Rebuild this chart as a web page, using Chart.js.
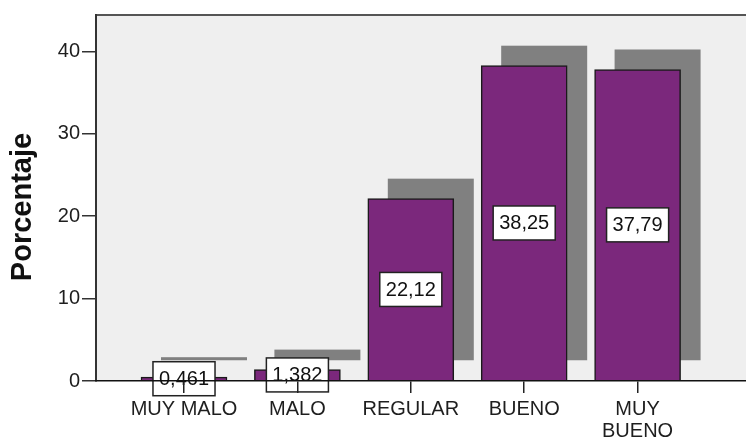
<!DOCTYPE html>
<html>
<head>
<meta charset="utf-8">
<script src="https://cdn.jsdelivr.net/npm/chart.js@4.4.1/dist/chart.umd.min.js"></script>
<style>
  html, body { margin: 0; padding: 0; background: #fff; overflow: hidden; }
  canvas { display: block; }
</style>
</head>
<body>
<canvas id="chart" width="746" height="438"></canvas>
<script>
// Porcentaje por categoría de valoración
const CATEGORIES = ['MUY MALO', 'MALO', 'REGULAR', 'BUENO', ['MUY', 'BUENO']];
const PERCENTAGES = [0.461, 1.382, 22.12, 38.25, 37.79];
const Y_TICKS = [0, 10, 20, 30, 40];
const Y_TITLE = 'Porcentaje';

const COLORS = {
  bar: '#7b287c',
  barEdge: '#1a1a1a',
  shadow: '#808080',
  plotBg: '#efefef',
  text: '#1e1e1e',
};

const FONT = "'Liberation Sans', Arial, sans-serif";
Chart.defaults.font.family = FONT;
Chart.defaults.font.size = 20;
Chart.defaults.color = COLORS.text;

const fmt = (v) => String(v).replace('.', ',');

// grey plot panel, offset "drop shadow" behind each bar, boxed value labels
const framePlugin = {
  id: 'frame',
  beforeDraw(chart) {
    const { ctx, chartArea: a } = chart;
    ctx.save();
    ctx.fillStyle = COLORS.plotBg;
    ctx.fillRect(a.left, a.top, a.right - a.left, a.bottom - a.top);
    ctx.strokeStyle = '#555';
    ctx.lineWidth = 2;
    ctx.beginPath();
    ctx.moveTo(a.left, a.top);
    ctx.lineTo(a.right, a.top);
    ctx.stroke();
    ctx.restore();
  },
  beforeDatasetsDraw(chart) {
    const { ctx } = chart;
    ctx.save();
    ctx.fillStyle = COLORS.shadow;
    chart.getDatasetMeta(0).data.forEach((el) => {
      const { x, y, base, width } = el.getProps(['x', 'y', 'base', 'width'], true);
      ctx.fillRect(x - width / 2 + 20, y - 20, width, base - y);
    });
    ctx.restore();
  },
  afterDatasetsDraw(chart) {
    const { ctx } = chart;
    ctx.save();
    ctx.font = `20px ${FONT}`;
    ctx.textAlign = 'center';
    ctx.textBaseline = 'middle';
    chart.getDatasetMeta(0).data.forEach((el, i) => {
      const { x, y, base } = el.getProps(['x', 'y', 'base'], true);
      const txt = fmt(PERCENTAGES[i]);
      const w = ctx.measureText(txt).width + 12;
      const h = 34;
      const cy = (y + base) / 2;
      ctx.fillStyle = '#fff';
      ctx.fillRect(x - w / 2, cy - h / 2, w, h);
      ctx.strokeStyle = '#222';
      ctx.lineWidth = 1.5;
      ctx.strokeRect(x - w / 2, cy - h / 2, w, h);
      ctx.fillStyle = '#111';
      ctx.fillText(txt, x, cy + 1);
    });
    ctx.restore();
  },
  afterDraw(chart) {
    // vertical axis title, bold, reading bottom to top
    const { ctx } = chart;
    ctx.save();
    ctx.translate(23, 207);
    ctx.rotate(-Math.PI / 2);
    ctx.font = `bold 29px ${FONT}`;
    ctx.fillStyle = '#111';
    ctx.textAlign = 'center';
    ctx.textBaseline = 'middle';
    ctx.fillText(Y_TITLE, 0, 0);
    ctx.restore();
  },
};

new Chart(document.getElementById('chart'), {
  type: 'bar',
  data: {
    datasets: [{
      data: PERCENTAGES.map((v, i) => ({ x: i, y: v })),
      backgroundColor: COLORS.bar,
      borderColor: COLORS.barEdge,
      borderWidth: 1.5,
      barThickness: 86,
    }],
  },
  options: {
    responsive: false,
    animation: false,
    layout: { padding: { top: 15, left: 0, right: 0, bottom: 0 } },
    plugins: {
      legend: { display: false },
      tooltip: { enabled: false },
    },
    scales: {
      x: {
        type: 'linear',
        min: -0.776,
        max: 4.956,
        offset: false,
        afterBuildTicks: (s) => { s.ticks = CATEGORIES.map((_, i) => ({ value: i })); },
        afterFit: (s) => { s.height = 57; },
        grid: { drawOnChartArea: false, offset: false, tickLength: 12, color: '#222', lineWidth: 1.5, z: 1 },
        border: { color: '#111', width: 1.5, z: 1 },
        ticks: {
          z: 1,
          padding: 5,
          color: COLORS.text,
          font: { size: 20, lineHeight: 1.1 },
          maxRotation: 0,
          autoSkip: false,
          callback: (v) => CATEGORIES[v],
        },
      },
      y: {
        min: 0,
        max: 44.4,
        afterBuildTicks: (s) => { s.ticks = Y_TICKS.map((v) => ({ value: v })); },
        afterFit: (s) => { s.width = 96; },
        grid: { drawOnChartArea: false, tickLength: 14, color: '#333', lineWidth: 1.5 },
        border: { color: '#333', width: 2 },
        ticks: { padding: 2, color: COLORS.text, font: { size: 20 } },
      },
    },
  },
  plugins: [framePlugin],
});
</script>
</body>
</html>
